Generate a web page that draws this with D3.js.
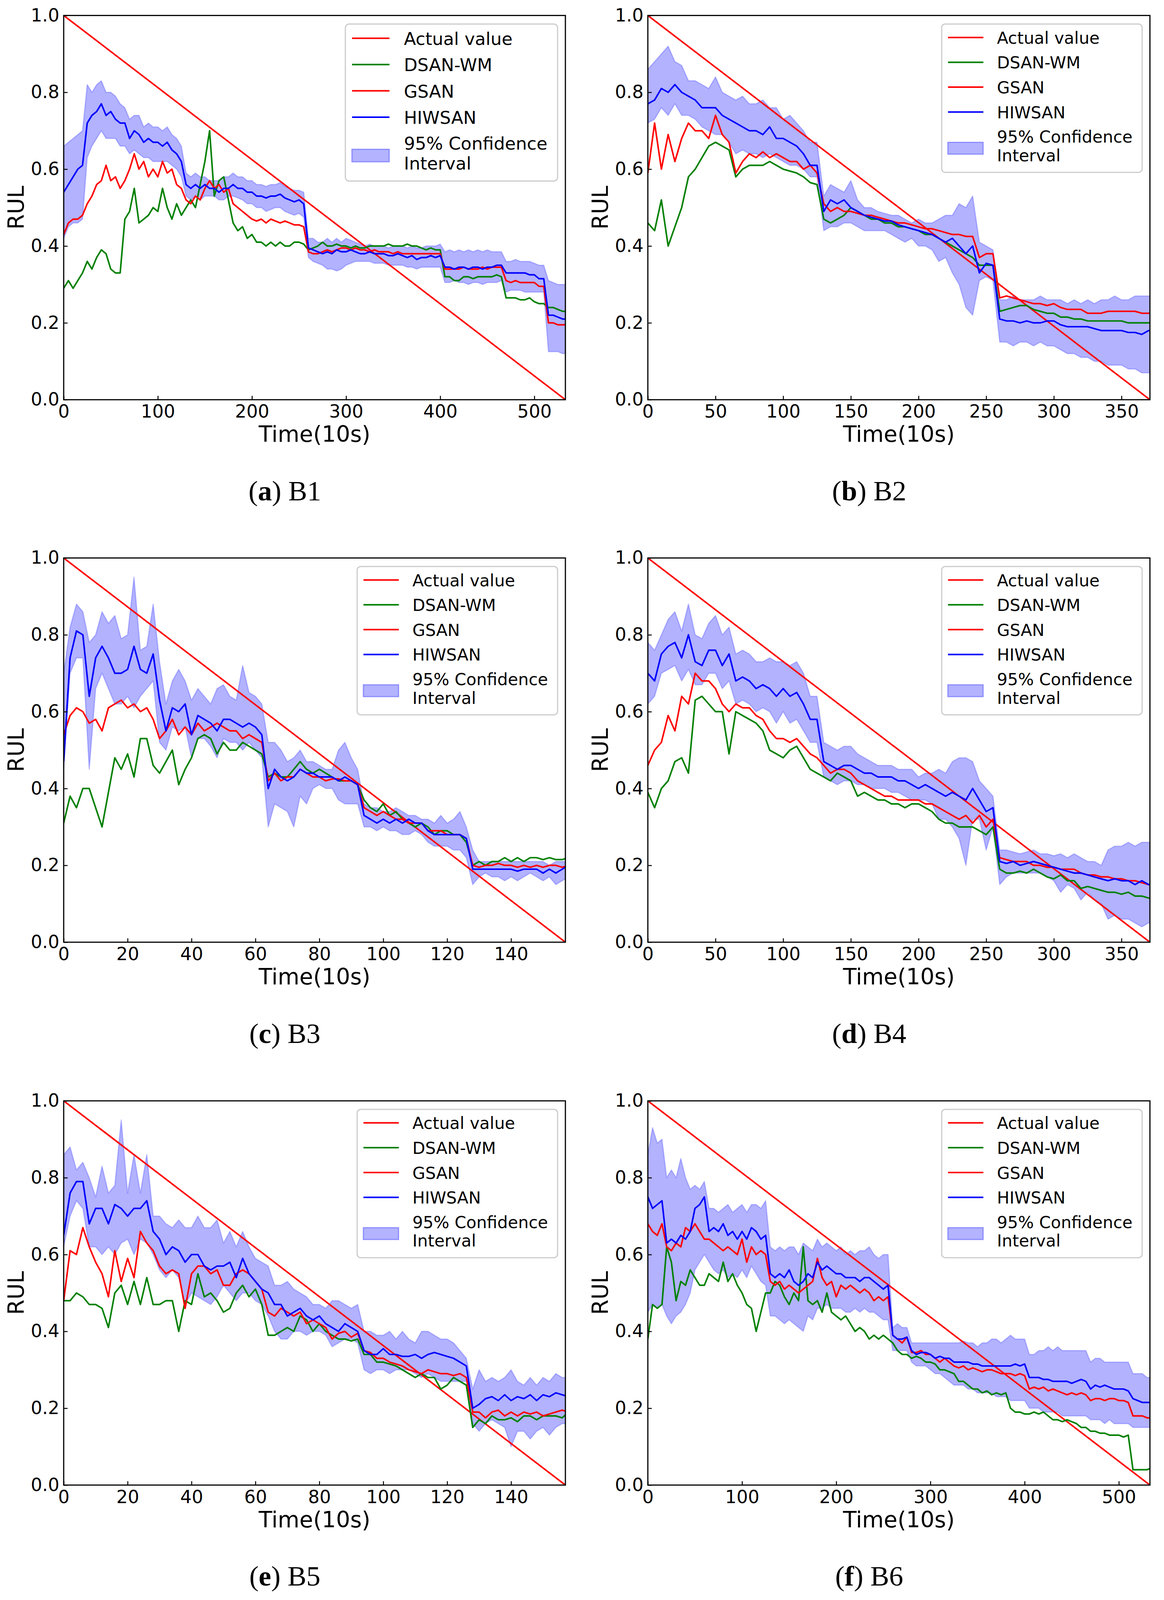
<!DOCTYPE html>
<html>
<head>
<meta charset="utf-8">
<script src="https://cdn.jsdelivr.net/npm/d3@7"></script>
<style>html,body{margin:0;padding:0;background:#fff;overflow:hidden}svg{display:block;width:100vw;height:100vh}</style>
</head>
<body>
<svg id="fig" viewBox="0 0 2979 4135" preserveAspectRatio="none"></svg>
<script>
// RUL predictions per bearing.
// every series of a panel is sampled at t = i*step (unit: 10s)

var seriesNames = ["Actual value", "DSAN-WM", "GSAN", "HIWSAN"];
var seriesColors = ["#ff0000", "#008000", "#ff0000", "#0000ff"];
var ciName = ["95% Confidence", "Interval"];
var yTicks = [0, 0.2, 0.4, 0.6, 0.8, 1.0];
var actualRul = [1, 0];   // at t = 0 and t = end of life

// ---- B1 ----
var b1Step = 5, b1Max = 533, b1Ticks = [0, 100, 200, 300, 400, 500];
var b1Dsan = [0.29,0.31,0.29,0.31,0.33,0.36,0.34,0.37,0.39,0.38,
  0.34,0.33,0.33,0.47,0.49,0.55,0.46,0.47,0.48,0.50,
  0.49,0.55,0.50,0.47,0.51,0.48,0.50,0.52,0.50,0.56,
  0.62,0.70,0.53,0.57,0.58,0.52,0.46,0.44,0.45,0.42,
  0.43,0.41,0.41,0.40,0.41,0.40,0.41,0.40,0.40,0.41,
  0.41,0.405,0.39,0.395,0.40,0.41,0.40,0.40,0.405,0.40,
  0.40,0.395,0.40,0.395,0.395,0.40,0.40,0.40,0.40,0.405,
  0.40,0.40,0.40,0.405,0.40,0.40,0.395,0.39,0.395,0.39,
  0.39,0.32,0.32,0.31,0.31,0.32,0.32,0.315,0.32,0.32,
  0.32,0.32,0.325,0.32,0.265,0.265,0.265,0.26,0.26,0.265,
  0.255,0.25,0.25,0.24,0.24,0.235,0.23,0.23];
var b1Gsan = [0.43,0.46,0.47,0.47,0.48,0.51,0.53,0.56,0.57,0.61,
  0.57,0.58,0.55,0.57,0.60,0.64,0.60,0.62,0.58,0.60,
  0.58,0.62,0.59,0.60,0.56,0.55,0.52,0.51,0.53,0.52,
  0.55,0.57,0.55,0.56,0.54,0.55,0.51,0.50,0.49,0.48,
  0.47,0.465,0.47,0.46,0.47,0.465,0.46,0.465,0.46,0.455,
  0.455,0.45,0.385,0.38,0.38,0.385,0.39,0.385,0.39,0.395,
  0.395,0.39,0.395,0.39,0.39,0.385,0.39,0.385,0.385,0.385,
  0.38,0.385,0.38,0.38,0.38,0.38,0.38,0.38,0.38,0.38,
  0.38,0.34,0.34,0.34,0.34,0.345,0.34,0.34,0.34,0.345,
  0.34,0.345,0.345,0.345,0.31,0.305,0.31,0.305,0.305,0.305,
  0.305,0.295,0.295,0.20,0.20,0.195,0.195,0.195];
var b1Hiwsan = [0.54,0.56,0.58,0.60,0.61,0.72,0.74,0.75,0.77,0.74,
  0.75,0.73,0.72,0.72,0.68,0.70,0.69,0.67,0.68,0.67,
  0.67,0.66,0.67,0.65,0.64,0.62,0.56,0.55,0.56,0.55,
  0.56,0.55,0.55,0.54,0.55,0.55,0.56,0.55,0.55,0.54,
  0.54,0.53,0.53,0.525,0.53,0.53,0.535,0.525,0.52,0.515,
  0.52,0.51,0.395,0.39,0.385,0.38,0.385,0.38,0.39,0.385,
  0.385,0.39,0.385,0.38,0.38,0.385,0.38,0.38,0.38,0.375,
  0.375,0.38,0.375,0.37,0.375,0.365,0.37,0.37,0.375,0.37,
  0.375,0.345,0.345,0.34,0.345,0.345,0.34,0.345,0.345,0.34,
  0.345,0.345,0.35,0.35,0.33,0.33,0.33,0.33,0.33,0.325,
  0.325,0.315,0.315,0.22,0.22,0.215,0.21,0.21];
var b1Lo = [0.42,0.45,0.46,0.46,0.47,0.63,0.66,0.68,0.70,0.68,
  0.68,0.68,0.66,0.66,0.64,0.65,0.64,0.63,0.63,0.62,
  0.62,0.62,0.62,0.61,0.60,0.58,0.53,0.52,0.53,0.52,
  0.53,0.53,0.53,0.52,0.52,0.53,0.53,0.525,0.52,0.51,
  0.51,0.50,0.50,0.49,0.495,0.50,0.50,0.49,0.485,0.48,
  0.485,0.475,0.37,0.36,0.355,0.35,0.34,0.34,0.335,0.34,
  0.35,0.355,0.36,0.36,0.36,0.36,0.355,0.355,0.355,0.35,
  0.35,0.35,0.35,0.345,0.345,0.34,0.345,0.345,0.345,0.345,
  0.345,0.305,0.305,0.31,0.305,0.305,0.30,0.305,0.305,0.30,
  0.305,0.305,0.305,0.31,0.28,0.285,0.285,0.285,0.28,0.28,
  0.28,0.28,0.28,0.125,0.125,0.125,0.12,0.12];
var b1Hi = [0.66,0.67,0.68,0.69,0.70,0.82,0.80,0.82,0.83,0.80,
  0.80,0.79,0.77,0.76,0.73,0.74,0.74,0.71,0.72,0.71,
  0.71,0.70,0.71,0.69,0.68,0.66,0.59,0.58,0.59,0.58,
  0.58,0.57,0.57,0.57,0.58,0.58,0.59,0.58,0.58,0.57,
  0.57,0.56,0.56,0.555,0.56,0.56,0.565,0.555,0.55,0.545,
  0.545,0.54,0.42,0.42,0.41,0.41,0.42,0.41,0.42,0.41,
  0.42,0.415,0.41,0.405,0.40,0.405,0.40,0.40,0.40,0.395,
  0.40,0.40,0.40,0.395,0.40,0.395,0.395,0.40,0.40,0.40,
  0.405,0.385,0.39,0.385,0.39,0.385,0.39,0.385,0.39,0.385,
  0.39,0.385,0.385,0.385,0.36,0.36,0.365,0.36,0.36,0.36,
  0.355,0.35,0.35,0.31,0.305,0.30,0.30,0.30];

// ---- B2 ----
var b2Step = 5, b2Max = 371, b2Ticks = [0, 50, 100, 150, 200, 250, 300, 350];
var b2Dsan = [0.46,0.44,0.52,0.40,0.45,0.50,0.58,0.60,0.63,0.66,
  0.67,0.66,0.65,0.58,0.60,0.61,0.61,0.61,0.62,0.61,
  0.60,0.595,0.59,0.58,0.565,0.56,0.47,0.46,0.47,0.48,
  0.50,0.49,0.48,0.47,0.47,0.46,0.46,0.45,0.45,0.445,
  0.44,0.43,0.43,0.42,0.41,0.40,0.39,0.38,0.37,0.35,
  0.35,0.35,0.23,0.235,0.24,0.245,0.245,0.235,0.23,0.225,
  0.225,0.215,0.215,0.21,0.21,0.205,0.205,0.205,0.205,0.205,
  0.205,0.20,0.20,0.20,0.20,0.20];
var b2Gsan = [0.59,0.72,0.60,0.69,0.62,0.68,0.72,0.70,0.70,0.68,
  0.74,0.69,0.67,0.59,0.62,0.64,0.63,0.645,0.63,0.64,
  0.63,0.62,0.62,0.60,0.61,0.59,0.51,0.49,0.50,0.49,
  0.49,0.485,0.48,0.48,0.475,0.47,0.465,0.46,0.46,0.455,
  0.45,0.445,0.445,0.44,0.435,0.43,0.43,0.425,0.425,0.37,
  0.38,0.38,0.265,0.27,0.265,0.26,0.255,0.25,0.25,0.245,
  0.25,0.24,0.235,0.235,0.235,0.225,0.225,0.225,0.23,0.23,
  0.23,0.23,0.23,0.225,0.225,0.225];
var b2Hiwsan = [0.77,0.78,0.81,0.80,0.82,0.80,0.79,0.78,0.76,0.76,
  0.76,0.74,0.73,0.72,0.71,0.70,0.70,0.69,0.71,0.68,
  0.68,0.67,0.66,0.64,0.61,0.61,0.49,0.52,0.51,0.52,
  0.50,0.49,0.48,0.475,0.47,0.465,0.465,0.455,0.45,0.445,
  0.44,0.435,0.43,0.42,0.41,0.42,0.40,0.38,0.40,0.33,
  0.355,0.35,0.21,0.205,0.205,0.20,0.205,0.20,0.20,0.205,
  0.205,0.195,0.19,0.19,0.19,0.19,0.185,0.18,0.18,0.18,
  0.18,0.175,0.175,0.17,0.18,0.18];
var b2Lo = [0.72,0.73,0.76,0.74,0.77,0.74,0.74,0.73,0.71,0.70,
  0.69,0.69,0.67,0.64,0.65,0.64,0.64,0.63,0.64,0.63,
  0.62,0.61,0.61,0.60,0.58,0.58,0.44,0.45,0.45,0.46,
  0.46,0.45,0.44,0.44,0.44,0.44,0.43,0.42,0.41,0.42,
  0.40,0.40,0.39,0.36,0.37,0.33,0.30,0.24,0.22,0.31,
  0.32,0.31,0.15,0.15,0.14,0.15,0.15,0.14,0.15,0.14,
  0.14,0.13,0.12,0.12,0.11,0.11,0.10,0.10,0.09,0.09,
  0.09,0.08,0.08,0.07,0.07,0.07];
var b2Hi = [0.86,0.88,0.90,0.92,0.88,0.87,0.83,0.83,0.82,0.81,
  0.84,0.80,0.79,0.78,0.79,0.77,0.77,0.78,0.76,0.76,
  0.73,0.74,0.72,0.70,0.67,0.67,0.53,0.56,0.55,0.54,
  0.57,0.52,0.50,0.50,0.49,0.485,0.48,0.48,0.47,0.46,
  0.47,0.46,0.46,0.47,0.48,0.48,0.51,0.50,0.53,0.41,
  0.40,0.39,0.26,0.26,0.27,0.26,0.26,0.26,0.27,0.26,
  0.26,0.26,0.25,0.26,0.25,0.26,0.25,0.26,0.26,0.27,
  0.26,0.26,0.27,0.27,0.27,0.27];

// ---- B3 ----
var b3Step = 2, b3Max = 157, b3Ticks = [0, 20, 40, 60, 80, 100, 120, 140];
var b3Dsan = [0.31,0.38,0.35,0.40,0.40,0.35,0.30,0.39,0.48,0.45,
  0.49,0.43,0.53,0.53,0.46,0.44,0.47,0.50,0.41,0.45,
  0.48,0.53,0.54,0.53,0.49,0.52,0.50,0.50,0.52,0.51,
  0.50,0.49,0.43,0.44,0.43,0.43,0.45,0.47,0.45,0.44,
  0.45,0.44,0.43,0.42,0.42,0.42,0.41,0.37,0.35,0.34,
  0.36,0.33,0.34,0.32,0.31,0.30,0.31,0.30,0.28,0.29,
  0.29,0.28,0.28,0.26,0.20,0.21,0.20,0.21,0.21,0.22,
  0.21,0.22,0.21,0.22,0.22,0.215,0.22,0.215,0.215,0.22];
var b3Gsan = [0.54,0.59,0.61,0.60,0.57,0.58,0.55,0.61,0.62,0.63,
  0.61,0.62,0.60,0.61,0.58,0.53,0.55,0.58,0.54,0.56,
  0.54,0.57,0.55,0.56,0.57,0.56,0.55,0.55,0.53,0.54,
  0.53,0.52,0.42,0.44,0.42,0.43,0.43,0.45,0.44,0.43,
  0.43,0.42,0.425,0.425,0.42,0.42,0.41,0.35,0.34,0.33,
  0.34,0.33,0.32,0.32,0.31,0.31,0.31,0.29,0.29,0.29,
  0.28,0.28,0.28,0.27,0.20,0.195,0.20,0.20,0.205,0.20,
  0.20,0.195,0.20,0.195,0.20,0.195,0.20,0.20,0.195,0.20];
var b3Hiwsan = [0.47,0.74,0.81,0.80,0.64,0.74,0.77,0.74,0.70,0.70,
  0.71,0.77,0.71,0.70,0.75,0.63,0.55,0.61,0.60,0.62,
  0.54,0.59,0.58,0.57,0.55,0.58,0.58,0.57,0.56,0.57,
  0.56,0.54,0.40,0.45,0.43,0.42,0.43,0.45,0.44,0.44,
  0.43,0.43,0.43,0.42,0.43,0.42,0.41,0.33,0.32,0.31,
  0.32,0.31,0.32,0.31,0.32,0.31,0.31,0.29,0.28,0.28,
  0.28,0.28,0.28,0.27,0.19,0.19,0.19,0.19,0.19,0.19,
  0.19,0.185,0.19,0.19,0.19,0.18,0.19,0.18,0.19,0.20];
var b3Lo = [0.45,0.70,0.74,0.74,0.45,0.66,0.70,0.66,0.62,0.62,
  0.64,0.61,0.64,0.66,0.68,0.52,0.50,0.56,0.55,0.56,
  0.48,0.53,0.53,0.51,0.48,0.53,0.52,0.52,0.50,0.52,
  0.50,0.48,0.30,0.36,0.35,0.34,0.30,0.38,0.36,0.40,
  0.41,0.40,0.40,0.37,0.36,0.36,0.36,0.30,0.30,0.29,
  0.30,0.29,0.29,0.28,0.28,0.29,0.28,0.26,0.25,0.25,
  0.25,0.24,0.24,0.22,0.15,0.17,0.18,0.17,0.17,0.16,
  0.17,0.16,0.17,0.18,0.17,0.16,0.17,0.15,0.16,0.17];
var b3Hi = [0.70,0.82,0.88,0.86,0.78,0.80,0.86,0.83,0.85,0.79,
  0.80,0.95,0.76,0.77,0.88,0.73,0.62,0.68,0.71,0.68,
  0.63,0.66,0.64,0.62,0.66,0.67,0.64,0.63,0.72,0.65,
  0.64,0.62,0.52,0.52,0.50,0.47,0.48,0.50,0.47,0.47,
  0.46,0.45,0.45,0.50,0.52,0.48,0.45,0.36,0.35,0.35,
  0.34,0.34,0.35,0.34,0.33,0.33,0.32,0.32,0.31,0.33,
  0.31,0.32,0.34,0.30,0.24,0.21,0.21,0.21,0.21,0.21,
  0.21,0.21,0.21,0.21,0.21,0.21,0.20,0.21,0.21,0.21];

// ---- B4 ----
var b4Step = 5, b4Max = 371, b4Ticks = [0, 50, 100, 150, 200, 250, 300, 350];
var b4Dsan = [0.39,0.35,0.40,0.42,0.47,0.48,0.44,0.63,0.64,0.62,
  0.60,0.60,0.49,0.60,0.59,0.58,0.57,0.55,0.50,0.49,
  0.48,0.50,0.51,0.48,0.45,0.44,0.43,0.42,0.44,0.43,
  0.42,0.38,0.39,0.38,0.37,0.37,0.36,0.36,0.35,0.36,
  0.36,0.35,0.34,0.32,0.31,0.31,0.30,0.30,0.30,0.29,
  0.28,0.30,0.19,0.18,0.18,0.185,0.18,0.19,0.18,0.17,
  0.165,0.175,0.16,0.16,0.14,0.145,0.14,0.135,0.13,0.13,
  0.125,0.13,0.12,0.12,0.115,0.115];
var b4Gsan = [0.46,0.50,0.52,0.59,0.55,0.64,0.62,0.70,0.68,0.68,
  0.66,0.62,0.60,0.62,0.61,0.61,0.59,0.58,0.55,0.53,
  0.53,0.52,0.53,0.51,0.49,0.48,0.46,0.44,0.45,0.45,
  0.44,0.42,0.41,0.40,0.39,0.38,0.38,0.37,0.37,0.37,
  0.37,0.36,0.36,0.35,0.34,0.33,0.32,0.33,0.31,0.33,
  0.30,0.32,0.22,0.215,0.21,0.21,0.21,0.20,0.20,0.195,
  0.195,0.19,0.19,0.19,0.18,0.175,0.175,0.17,0.17,0.165,
  0.165,0.16,0.16,0.155,0.15,0.15];
var b4Hiwsan = [0.70,0.68,0.75,0.77,0.78,0.74,0.80,0.73,0.72,0.76,
  0.76,0.72,0.75,0.68,0.69,0.68,0.66,0.67,0.66,0.64,
  0.66,0.64,0.65,0.62,0.58,0.58,0.47,0.46,0.45,0.46,
  0.46,0.45,0.44,0.44,0.43,0.43,0.43,0.42,0.42,0.41,
  0.40,0.41,0.40,0.39,0.38,0.39,0.38,0.37,0.40,0.37,
  0.34,0.35,0.21,0.205,0.21,0.20,0.205,0.21,0.205,0.20,
  0.195,0.19,0.185,0.18,0.18,0.175,0.17,0.165,0.16,0.165,
  0.16,0.16,0.15,0.16,0.15,0.15];
var b4Lo = [0.62,0.64,0.70,0.71,0.72,0.68,0.71,0.67,0.67,0.70,
  0.70,0.66,0.68,0.62,0.63,0.62,0.60,0.61,0.60,0.57,
  0.60,0.57,0.58,0.55,0.52,0.52,0.43,0.42,0.41,0.42,
  0.42,0.41,0.41,0.40,0.40,0.40,0.39,0.39,0.38,0.37,
  0.37,0.37,0.36,0.32,0.32,0.30,0.27,0.20,0.32,0.32,
  0.24,0.30,0.15,0.17,0.18,0.18,0.18,0.18,0.18,0.17,
  0.16,0.13,0.15,0.14,0.11,0.13,0.11,0.10,0.06,0.07,
  0.06,0.06,0.05,0.04,0.05,0.05];
var b4Hi = [0.78,0.76,0.80,0.84,0.86,0.81,0.88,0.80,0.79,0.83,
  0.85,0.80,0.82,0.75,0.76,0.75,0.73,0.73,0.74,0.73,
  0.73,0.72,0.73,0.70,0.64,0.64,0.52,0.51,0.50,0.51,
  0.51,0.49,0.48,0.47,0.46,0.46,0.46,0.45,0.45,0.45,
  0.43,0.44,0.44,0.45,0.44,0.47,0.48,0.48,0.47,0.42,
  0.40,0.38,0.24,0.24,0.235,0.23,0.235,0.24,0.23,0.23,
  0.225,0.23,0.22,0.23,0.22,0.21,0.21,0.20,0.24,0.25,
  0.25,0.26,0.25,0.26,0.26,0.26];

// ---- B5 ----
var b5Step = 2, b5Max = 157, b5Ticks = [0, 20, 40, 60, 80, 100, 120, 140];
var b5Dsan = [0.48,0.48,0.50,0.49,0.47,0.47,0.46,0.41,0.50,0.52,
  0.47,0.53,0.47,0.54,0.47,0.47,0.48,0.48,0.40,0.48,
  0.47,0.55,0.49,0.50,0.48,0.45,0.46,0.50,0.52,0.49,
  0.51,0.47,0.39,0.39,0.40,0.41,0.40,0.44,0.43,0.40,
  0.42,0.40,0.39,0.38,0.38,0.375,0.38,0.34,0.34,0.32,
  0.32,0.315,0.31,0.30,0.29,0.28,0.29,0.28,0.28,0.25,
  0.26,0.28,0.27,0.26,0.15,0.17,0.16,0.18,0.17,0.17,
  0.175,0.165,0.18,0.18,0.17,0.18,0.18,0.18,0.175,0.19];
var b5Gsan = [0.48,0.61,0.60,0.67,0.62,0.58,0.55,0.49,0.61,0.53,
  0.59,0.54,0.66,0.63,0.61,0.57,0.55,0.56,0.55,0.46,
  0.55,0.57,0.57,0.55,0.56,0.52,0.52,0.55,0.56,0.55,
  0.53,0.51,0.45,0.44,0.46,0.45,0.44,0.45,0.42,0.43,
  0.42,0.41,0.38,0.395,0.40,0.385,0.395,0.35,0.345,0.33,
  0.33,0.32,0.315,0.31,0.30,0.295,0.29,0.30,0.295,0.29,
  0.29,0.285,0.29,0.28,0.19,0.19,0.175,0.19,0.195,0.18,
  0.19,0.18,0.19,0.185,0.19,0.18,0.185,0.19,0.195,0.19];
var b5Hiwsan = [0.65,0.76,0.79,0.79,0.68,0.72,0.72,0.68,0.73,0.72,
  0.70,0.72,0.72,0.74,0.66,0.64,0.60,0.62,0.61,0.58,
  0.60,0.60,0.57,0.56,0.57,0.57,0.58,0.54,0.59,0.55,
  0.53,0.51,0.50,0.47,0.47,0.44,0.45,0.46,0.44,0.43,
  0.44,0.42,0.41,0.40,0.42,0.41,0.40,0.35,0.34,0.34,
  0.355,0.34,0.34,0.335,0.335,0.34,0.33,0.34,0.345,0.34,
  0.335,0.33,0.32,0.31,0.20,0.21,0.225,0.23,0.22,0.235,
  0.22,0.23,0.225,0.235,0.22,0.235,0.23,0.24,0.235,0.23];
var b5Lo = [0.62,0.70,0.74,0.72,0.62,0.62,0.60,0.62,0.60,0.63,
  0.64,0.60,0.64,0.63,0.60,0.56,0.54,0.56,0.54,0.47,
  0.50,0.49,0.48,0.47,0.49,0.52,0.50,0.48,0.50,0.50,
  0.48,0.47,0.44,0.40,0.38,0.38,0.40,0.40,0.39,0.40,
  0.40,0.39,0.36,0.37,0.38,0.38,0.37,0.30,0.29,0.30,
  0.30,0.29,0.30,0.30,0.30,0.29,0.28,0.29,0.28,0.27,
  0.27,0.27,0.27,0.27,0.16,0.14,0.16,0.17,0.16,0.15,
  0.10,0.14,0.14,0.12,0.14,0.15,0.13,0.15,0.16,0.16];
var b5Hi = [0.86,0.88,0.82,0.84,0.80,0.75,0.83,0.76,0.78,0.95,
  0.76,0.86,0.76,0.86,0.70,0.70,0.68,0.67,0.69,0.67,
  0.67,0.70,0.67,0.67,0.69,0.63,0.66,0.62,0.66,0.62,
  0.59,0.58,0.57,0.52,0.52,0.53,0.51,0.50,0.49,0.47,
  0.47,0.46,0.48,0.48,0.47,0.46,0.47,0.40,0.40,0.39,
  0.39,0.40,0.38,0.40,0.38,0.37,0.40,0.40,0.39,0.38,
  0.38,0.37,0.35,0.33,0.25,0.30,0.27,0.28,0.27,0.28,
  0.30,0.27,0.26,0.28,0.26,0.28,0.27,0.29,0.28,0.28];

// ---- B6 ----
var b6Step = 5, b6Max = 533, b6Ticks = [0, 100, 200, 300, 400, 500];
var b6Dsan = [0.38,0.47,0.46,0.47,0.62,0.58,0.48,0.53,0.52,0.56,
  0.54,0.52,0.52,0.55,0.54,0.53,0.58,0.53,0.55,0.52,
  0.50,0.47,0.46,0.40,0.45,0.50,0.50,0.53,0.52,0.49,
  0.47,0.50,0.48,0.62,0.48,0.47,0.48,0.45,0.50,0.45,
  0.44,0.43,0.44,0.42,0.40,0.41,0.40,0.38,0.39,0.38,
  0.39,0.38,0.37,0.35,0.34,0.34,0.33,0.335,0.33,0.32,
  0.32,0.315,0.30,0.30,0.295,0.29,0.27,0.27,0.26,0.25,
  0.25,0.24,0.245,0.235,0.24,0.235,0.24,0.20,0.19,0.19,
  0.185,0.185,0.19,0.185,0.19,0.18,0.17,0.17,0.165,0.17,
  0.165,0.16,0.15,0.15,0.14,0.14,0.135,0.135,0.13,0.13,
  0.13,0.125,0.13,0.04,0.04,0.04,0.04,0.045];
var b6Gsan = [0.68,0.66,0.65,0.68,0.62,0.61,0.63,0.62,0.67,0.66,
  0.68,0.66,0.64,0.64,0.63,0.62,0.61,0.62,0.61,0.60,
  0.64,0.58,0.62,0.60,0.61,0.60,0.53,0.52,0.53,0.51,
  0.52,0.51,0.50,0.51,0.52,0.53,0.59,0.54,0.52,0.53,
  0.49,0.52,0.51,0.52,0.51,0.50,0.51,0.50,0.48,0.49,
  0.48,0.49,0.39,0.38,0.37,0.385,0.345,0.345,0.35,0.34,
  0.34,0.33,0.32,0.33,0.32,0.31,0.305,0.31,0.30,0.305,
  0.30,0.295,0.30,0.30,0.295,0.29,0.29,0.29,0.285,0.29,
  0.285,0.25,0.255,0.25,0.255,0.245,0.25,0.245,0.24,0.235,
  0.24,0.235,0.24,0.235,0.22,0.225,0.225,0.22,0.225,0.225,
  0.22,0.22,0.215,0.18,0.18,0.18,0.175,0.175];
var b6Hiwsan = [0.75,0.72,0.73,0.74,0.63,0.64,0.63,0.65,0.64,0.66,
  0.72,0.73,0.75,0.66,0.67,0.66,0.68,0.65,0.66,0.64,
  0.66,0.64,0.67,0.66,0.64,0.65,0.55,0.54,0.55,0.54,
  0.56,0.53,0.52,0.53,0.55,0.54,0.58,0.56,0.57,0.56,
  0.55,0.55,0.54,0.54,0.54,0.53,0.54,0.54,0.53,0.52,
  0.51,0.52,0.39,0.38,0.38,0.385,0.35,0.34,0.345,0.345,
  0.34,0.33,0.335,0.33,0.33,0.32,0.32,0.32,0.32,0.315,
  0.315,0.31,0.31,0.31,0.31,0.31,0.31,0.31,0.315,0.31,
  0.315,0.28,0.28,0.28,0.275,0.275,0.27,0.27,0.27,0.27,
  0.265,0.27,0.275,0.27,0.25,0.26,0.255,0.26,0.255,0.25,
  0.25,0.25,0.245,0.225,0.22,0.215,0.215,0.215];
var b6Lo = [0.45,0.47,0.46,0.47,0.44,0.42,0.44,0.45,0.47,0.50,
  0.56,0.58,0.60,0.58,0.56,0.55,0.56,0.54,0.55,0.54,
  0.56,0.54,0.57,0.55,0.53,0.52,0.44,0.44,0.43,0.42,
  0.43,0.42,0.41,0.40,0.44,0.43,0.46,0.46,0.47,0.46,
  0.46,0.46,0.45,0.45,0.46,0.45,0.46,0.45,0.45,0.44,
  0.43,0.43,0.35,0.35,0.35,0.35,0.32,0.31,0.31,0.31,
  0.30,0.29,0.29,0.28,0.27,0.26,0.26,0.26,0.25,0.25,
  0.24,0.24,0.24,0.24,0.23,0.23,0.23,0.22,0.22,0.22,
  0.22,0.20,0.20,0.20,0.19,0.19,0.19,0.19,0.18,0.18,
  0.18,0.18,0.18,0.18,0.17,0.17,0.17,0.16,0.17,0.16,
  0.16,0.16,0.16,0.15,0.15,0.15,0.15,0.15];
var b6Hi = [0.86,0.93,0.89,0.90,0.80,0.82,0.80,0.85,0.80,0.77,
  0.78,0.77,0.79,0.72,0.72,0.71,0.72,0.73,0.71,0.72,
  0.73,0.71,0.73,0.73,0.72,0.74,0.62,0.61,0.62,0.61,
  0.62,0.62,0.60,0.63,0.62,0.61,0.64,0.62,0.63,0.62,
  0.61,0.62,0.60,0.61,0.60,0.61,0.61,0.62,0.60,0.59,
  0.60,0.60,0.41,0.42,0.41,0.41,0.37,0.37,0.37,0.37,
  0.37,0.37,0.37,0.37,0.37,0.37,0.37,0.375,0.37,0.37,
  0.36,0.37,0.37,0.38,0.38,0.37,0.38,0.39,0.38,0.38,
  0.38,0.34,0.34,0.35,0.35,0.36,0.35,0.36,0.35,0.35,
  0.35,0.35,0.35,0.35,0.32,0.33,0.33,0.32,0.32,0.32,
  0.32,0.32,0.32,0.29,0.29,0.29,0.28,0.28];

var panels = [
  {tag:"a", name:"B1", col:0, row:0, step:b1Step, xmax:b1Max, ticks:b1Ticks, dsan:b1Dsan, gsan:b1Gsan, hiw:b1Hiwsan, lo:b1Lo, hi:b1Hi, lfs:45},
  {tag:"b", name:"B2", col:1, row:0, step:b2Step, xmax:b2Max, ticks:b2Ticks, dsan:b2Dsan, gsan:b2Gsan, hiw:b2Hiwsan, lo:b2Lo, hi:b2Hi, lfs:42.5},
  {tag:"c", name:"B3", col:0, row:1, step:b3Step, xmax:b3Max, ticks:b3Ticks, dsan:b3Dsan, gsan:b3Gsan, hiw:b3Hiwsan, lo:b3Lo, hi:b3Hi, lfs:42.5},
  {tag:"d", name:"B4", col:1, row:1, step:b4Step, xmax:b4Max, ticks:b4Ticks, dsan:b4Dsan, gsan:b4Gsan, hiw:b4Hiwsan, lo:b4Lo, hi:b4Hi, lfs:42.5},
  {tag:"e", name:"B5", col:0, row:2, step:b5Step, xmax:b5Max, ticks:b5Ticks, dsan:b5Dsan, gsan:b5Gsan, hiw:b5Hiwsan, lo:b5Lo, hi:b5Hi, lfs:42.5},
  {tag:"f", name:"B6", col:1, row:2, step:b6Step, xmax:b6Max, ticks:b6Ticks, dsan:b6Dsan, gsan:b6Gsan, hiw:b6Hiwsan, lo:b6Lo, hi:b6Hi, lfs:42.5}
];

var svg = d3.select("#fig");
svg.append("rect").attr("width", 2979).attr("height", 4135).attr("fill", "#fff");

var colX = [[163, 1447], [1658, 2943]],
    rowY = [40, 1442, 2845],
    plotH = 993,
    sansFont = "'DejaVu Sans', sans-serif";

panels.forEach(function(p, k){ drawPanel(p, k); });

function drawPanel(p, k){
  var x0 = colX[p.col][0], x1 = colX[p.col][1],
      y0 = rowY[p.row], y1 = y0 + plotH;

  var x = d3.scaleLinear().domain([0, p.xmax]).range([x0, x1]);
  var y = d3.scaleLinear().domain([0, 1]).range([y1, y0]);

  var g = svg.append("g").attr("id", "panel_" + p.tag);

  g.append("clipPath").attr("id", "clip" + k)
    .append("rect").attr("x", x0).attr("y", y0).attr("width", x1 - x0).attr("height", plotH);
  var plot = g.append("g").attr("clip-path", "url(#clip" + k + ")");

  var tx = function(d, i){ return x(i * p.step); };

  // confidence band sits under the lines (like a matplotlib collection)
  var band = d3.area().x(tx)
    .y0(function(d, i){ return y(p.lo[i]); })
    .y1(function(d, i){ return y(p.hi[i]); });
  plot.append("path").datum(p.lo)
    .attr("d", band)
    .attr("fill", "#0000ff").attr("fill-opacity", 0.3)
    .attr("stroke", "#0000ff").attr("stroke-opacity", 0.22).attr("stroke-width", 3)
    .attr("stroke-linejoin", "round");

  plot.append("path").datum(actualRul)
    .attr("d", d3.line().x(function(d, i){ return x(i * p.xmax); }).y(function(d){ return y(d); }))
    .attr("fill", "none").attr("stroke", seriesColors[0]).attr("stroke-width", 4);

  var line = d3.line().x(tx).y(function(d){ return y(d); });
  [p.dsan, p.gsan, p.hiw].forEach(function(s, j){
    plot.append("path").datum(s)
      .attr("d", line)
      .attr("fill", "none")
      .attr("stroke", seriesColors[j + 1])
      .attr("stroke-width", 4)
      .attr("stroke-linejoin", "round");
  });

  // axes, ticks pointing inwards
  var xAxis = g.append("g").attr("transform", "translate(0," + y1 + ")")
    .call(d3.axisBottom(x).tickValues(p.ticks).tickSizeInner(-10).tickSizeOuter(0).tickPadding(14));
  var yAxis = g.append("g").attr("transform", "translate(" + x0 + ",0)")
    .call(d3.axisLeft(y).tickValues(yTicks).tickFormat(d3.format(".1f")).tickSizeInner(-10).tickSizeOuter(0).tickPadding(11));
  [xAxis, yAxis].forEach(function(a){
    a.attr("font-family", sansFont).attr("font-size", 46);
    a.select(".domain").remove();
    a.selectAll(".tick line").attr("stroke", "#000").attr("stroke-width", 2.5);
    a.selectAll(".tick text").attr("fill", "#000");
  });

  g.append("rect")
    .attr("x", x0).attr("y", y0).attr("width", x1 - x0).attr("height", plotH)
    .attr("fill", "none").attr("stroke", "#000").attr("stroke-width", 3);

  g.append("text")
    .attr("x", (x0 + x1) / 2).attr("y", y1 + 109)
    .attr("text-anchor", "middle")
    .attr("font-family", sansFont).attr("font-size", 57)
    .text("Time(10s)");

  g.append("text")
    .attr("transform", "translate(" + (x0 - 102) + "," + ((y0 + y1) / 2) + ")rotate(-90)")
    .attr("text-anchor", "middle")
    .attr("font-family", sansFont).attr("font-size", 57)
    .text("RUL");

  var cap = g.append("text")
    .attr("x", (x0 + x1) / 2 - 76).attr("y", y1 + 260)
    .attr("text-anchor", "middle")
    .attr("font-family", "'Liberation Serif', 'Times New Roman', serif").attr("font-size", 72);
  cap.append("tspan").text("(");
  cap.append("tspan").attr("font-weight", "bold").text(p.tag);
  cap.append("tspan").text(") " + p.name);

  drawLegend(g, p.lfs, x1, y0);
}

function drawLegend(g, fs, x1, y0){
  var w = 12.07 * fs, h = 9.02 * fs;
  var lg = g.append("g").attr("transform", "translate(" + (x1 - 20 - w) + "," + (y0 + 22) + ")");
  lg.append("rect")
    .attr("width", w).attr("height", h).attr("rx", 0.22 * fs)
    .attr("fill", "#fff").attr("fill-opacity", 0.8)
    .attr("stroke", "#cccccc").attr("stroke-width", 3);

  seriesNames.forEach(function(nm, i){
    var base = 1.2 * fs + i * 1.51 * fs;
    lg.append("line")
      .attr("x1", 0.38 * fs).attr("x2", 2.51 * fs)
      .attr("y1", base - 0.38 * fs).attr("y2", base - 0.38 * fs)
      .attr("stroke", seriesColors[i]).attr("stroke-width", 4);
    lg.append("text")
      .attr("x", 3.33 * fs).attr("y", base)
      .attr("font-family", sansFont).attr("font-size", fs)
      .text(nm);
  });

  lg.append("rect")
    .attr("x", 0.38 * fs).attr("y", 7.2 * fs)
    .attr("width", 2.11 * fs).attr("height", 0.71 * fs)
    .attr("fill", "#b3b3ff").attr("stroke", "#8c8cff").attr("stroke-width", 3);
  ciName.forEach(function(s, i){
    lg.append("text")
      .attr("x", 3.33 * fs).attr("y", 7.22 * fs + i * 1.13 * fs)
      .attr("font-family", sansFont).attr("font-size", fs)
      .text(s);
  });
}
</script>
</body>
</html>
